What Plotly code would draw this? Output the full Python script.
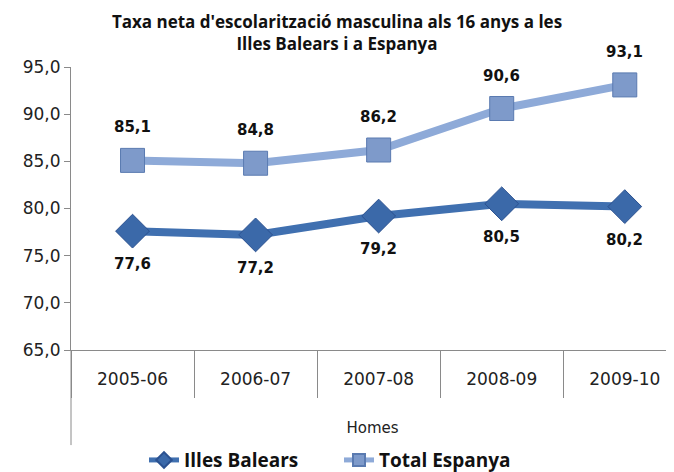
import plotly.graph_objects as go

categories = ["2005-06", "2006-07", "2007-08", "2008-09", "2009-10"]
balears = [77.6, 77.2, 79.2, 80.5, 80.2]
espanya = [85.1, 84.8, 86.2, 90.6, 93.1]
y_ticks = [65, 70, 75, 80, 85, 90, 95]

def fmt(v):
    return f"{v:.1f}".replace(".", ",")

fig = go.Figure()
fig.add_trace(go.Scatter(
    x=categories, y=balears, name="<b>Illes Balears</b>", mode="lines+markers",
    line=dict(color="#4070b0", width=8),
    marker=dict(symbol="diamond", size=26, color="#3b69a9",
                line=dict(color="#2b5190", width=1)),
))
fig.add_trace(go.Scatter(
    x=categories, y=espanya, name="<b>Total Espanya</b>", mode="lines+markers",
    line=dict(color="#8eaad8", width=8),
    marker=dict(symbol="square", size=24, color="#7e9aca",
                line=dict(color="#5a7ab0", width=1)),
))

annotations = []
for c, v in zip(categories, espanya):
    annotations.append(dict(x=c, y=v, text="<b>" + fmt(v) + "</b>", showarrow=False, yshift=33,
                            font=dict(family="DejaVu Sans", size=15, color="#111"),
                            xref="x", yref="y"))
for c, v in zip(categories, balears):
    annotations.append(dict(x=c, y=v, text="<b>" + fmt(v) + "</b>", showarrow=False, yshift=-33,
                            font=dict(family="DejaVu Sans", size=15, color="#111"),
                            xref="x", yref="y"))

fig.update_layout(
    width=666, height=464,
    margin=dict(l=63, r=0, t=59, b=122, autoexpand=False),
    paper_bgcolor="white", plot_bgcolor="white",
    separators=",.",
    title=dict(text="<b>Taxa neta d'escolarització masculina als 16 anys a les<br>Illes Balears i a Espanya</b>",
               x=0.494, xanchor="center", xref="container", yref="container", y=0.957, yanchor="middle",
               font=dict(family="Open Sans", size=17, color="#111")),
    annotations=annotations,
    showlegend=True,
    legend=dict(orientation="h", x=0.497, xanchor="center", xref="container",
                y=-0.389, yanchor="middle", itemsizing="constant",
                font=dict(family="Open Sans", size=19, color="#111"),
                entrywidth=150, tracegroupgap=0),
    xaxis=dict(type="category", range=[-0.5, 4.4], showgrid=False, automargin=False,
               showline=True, linecolor="#8a8a8a", linewidth=1,
               ticks="outside", tickson="boundaries", ticklen=47, tickcolor="#8a8a8a",
               ticklabelstandoff=14,
               tickfont=dict(family="DejaVu Sans", size=17, color="#222"),
               title=dict(text="Homes", standoff=34,
                          font=dict(family="DejaVu Sans", size=15, color="#222"))),
    yaxis=dict(range=[65, 95], tickvals=y_ticks, tickformat=".1f", showgrid=False,
               zeroline=False, showline=True, linecolor="#8a8a8a", linewidth=1,
               automargin=False,
               ticks="outside", ticklen=6, tickcolor="#8a8a8a",
               tickfont=dict(family="DejaVu Sans", size=17, color="#222")),
)

fig.add_shape(type="line", xref="paper", yref="paper", x0=0, x1=0, y0=0, y1=-0.336,
              line=dict(color="#8a8a8a", width=1))

fig.write_html("out.html")
